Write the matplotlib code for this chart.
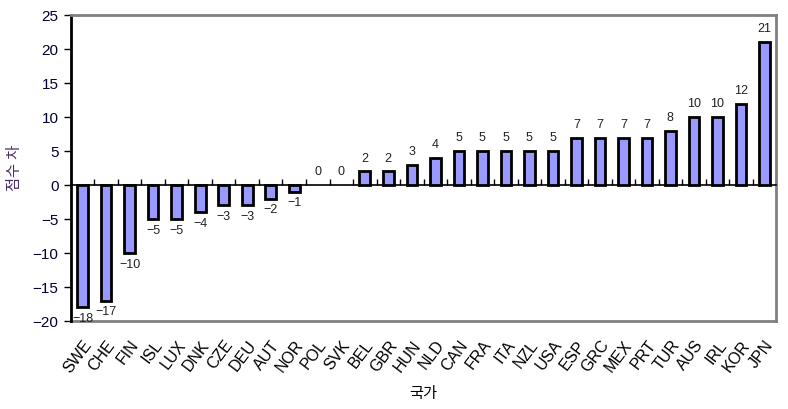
import matplotlib
matplotlib.use("Agg")
import matplotlib.pyplot as plt
import numpy as np

countries = ["SWE","CHE","FIN","ISL","LUX","DNK","CZE","DEU","AUT","NOR",
             "POL","SVK","BEL","GBR","HUN","NLD","CAN","FRA","ITA","NZL",
             "USA","ESP","GRC","MEX","PRT","TUR","AUS","IRL","KOR","JPN"]
values = [-18,-17,-10,-5,-5,-4,-3,-3,-2,-1,
          0,0,2,2,3,4,5,5,5,5,
          5,7,7,7,7,8,10,10,12,21]
yticks = [-20,-15,-10,-5,0,5,10,15,20,25]

plt.rcParams['font.family'] = ['Liberation Sans', 'Noto Sans CJK KR', 'DejaVu Sans']

fig = plt.figure(figsize=(7.88, 4.09), dpi=100)
ax = fig.add_axes([0.090, 0.215, 0.895, 0.748])

x = np.arange(len(countries))
lws = [0 if v == 0 else 2 for v in values]
bars = ax.bar(x, values, width=0.45, color='#9999FF', edgecolor='black', linewidth=lws, zorder=3)

for xi, v in zip(x, values):
    if v < 0:
        ax.annotate(str(v).replace('-', '\u2212'), (xi, v), xytext=(0, -4), textcoords='offset points',
                    ha='center', va='top', fontsize=9, color='#222222')
    else:
        ax.annotate(str(v), (xi, v), xytext=(0, 5), textcoords='offset points',
                    ha='center', va='bottom', fontsize=9, color='#222222')

ax.set_xlim(-0.5, len(countries) - 0.5)
ax.set_ylim(-20, 25)
ax.set_yticks(yticks)
ax.set_yticklabels([str(t).replace('-', '\u2212') for t in yticks], fontsize=11)
ax.tick_params(axis='y', direction='out', length=5, width=1, colors='black', labelcolor='#000033', pad=4)

# zero line spine with category boundary ticks
ax.spines['bottom'].set_position(('data', 0))
ax.spines['bottom'].set_color('black')
ax.spines['bottom'].set_linewidth(1.2)
ax.set_xticks(np.arange(-0.5, len(countries), 1.0))
ax.tick_params(axis='x', direction='in', length=4, width=1, labelbottom=False, colors='black')
ax.spines['left'].set_color('black')
ax.spines['left'].set_linewidth(2)
for s in ['top', 'right']:
    ax.spines[s].set_color('#808080')
    ax.spines[s].set_linewidth(2)

sec = ax.secondary_xaxis('bottom')
sec.spines['bottom'].set_color('#808080')
sec.spines['bottom'].set_linewidth(2)
sec.set_xticks(x)
sec.set_xticklabels(countries, rotation=53, ha='right', rotation_mode='anchor', fontsize=11.5)
sec.tick_params(axis='x', length=0, pad=12)

ax.set_ylabel('점수 차', fontsize=11, color='#4B2C6B')
ax.yaxis.set_label_coords(-0.069, 0.5)
sec.set_xlabel('국가', fontsize=11, labelpad=8)

fig.savefig('out.png', dpi=100)
